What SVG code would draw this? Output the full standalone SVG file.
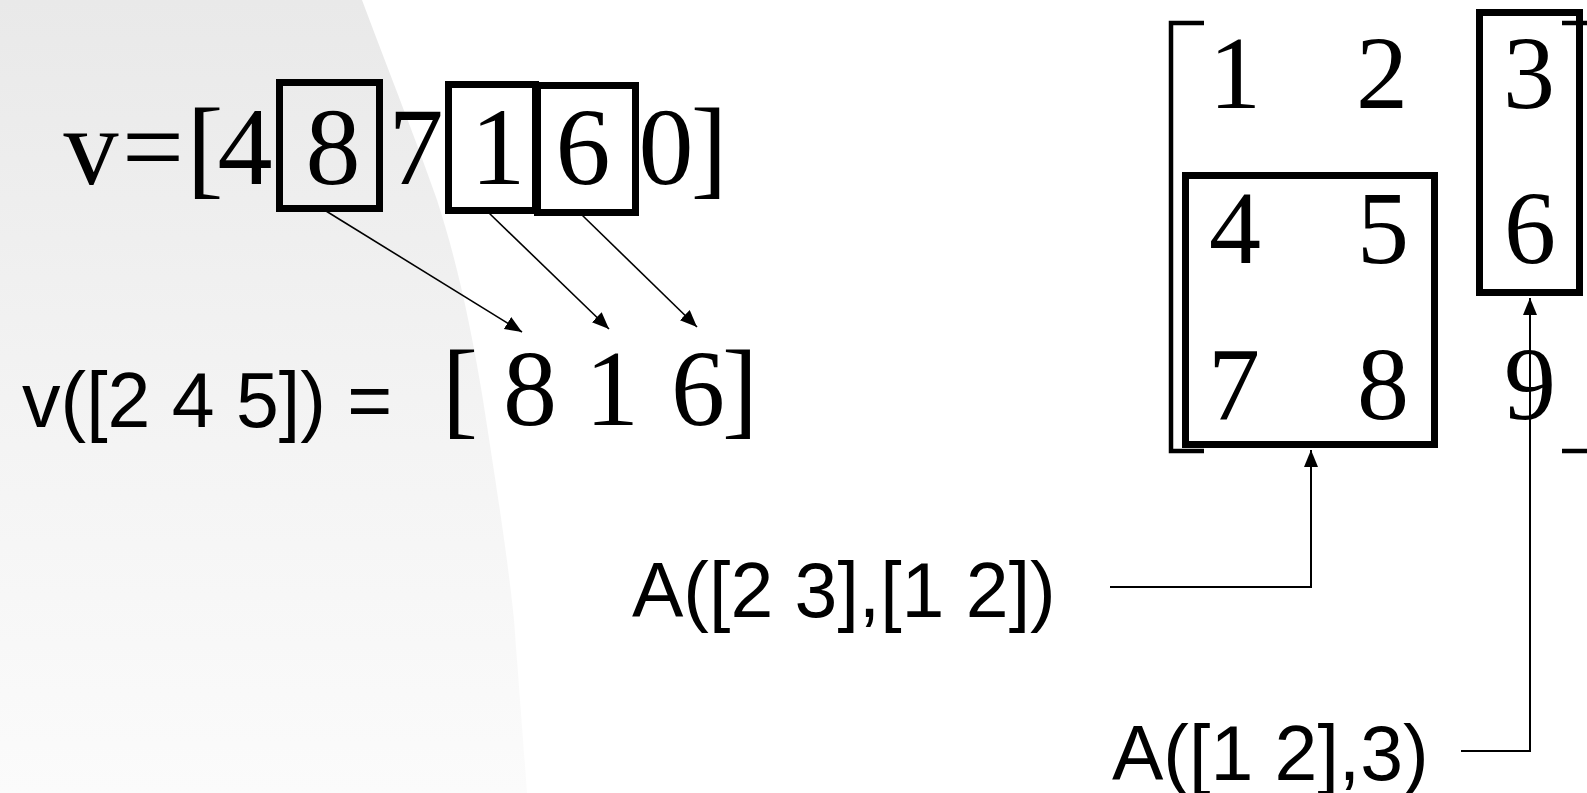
<svg xmlns="http://www.w3.org/2000/svg" width="1587" height="793" viewBox="0 0 1587 793">
  <style>
    .serif { font-family: "Liberation Serif", "Times New Roman", serif; fill: #000; text-anchor: middle; }
    .big { font-size: 110px; }
    .mid { font-size: 108px; }
    .mat { font-size: 104px; }
    .sans { font-family: "Liberation Sans", Arial, sans-serif; font-size: 77px; fill: #000; }
    .box { fill: none; stroke: #000; stroke-width: 7; }
    .bracket { fill: none; stroke: #000; stroke-width: 4.5; }
    .arrow { fill: none; stroke: #000; stroke-width: 1.6; marker-end: url(#head); }
    .lead { fill: none; stroke: #000; stroke-width: 2; marker-end: url(#head); }
  </style>
  <defs>
    <linearGradient id="shade" x1="0" y1="0" x2="0" y2="1">
      <stop offset="0" stop-color="#e9e9e9"/>
      <stop offset="0.5" stop-color="#f3f3f3"/>
      <stop offset="1" stop-color="#fbfbfb"/>
    </linearGradient>
    <marker id="head" markerUnits="userSpaceOnUse" markerWidth="18" markerHeight="16" refX="17" refY="7" orient="auto">
      <path d="M0,0 L17,7 L0,14 Z" fill="#000"/>
    </marker>
  </defs>

  <!-- page background with curved shaded panel -->
  <rect x="0" y="0" width="1587" height="793" fill="#ffffff"/>
  <path d="M0,0 L362,0 C390,75 420,150 437,200 C455,255 470,320 483,400 C497,490 508,560 514,620 C520,700 524,750 527,793 L0,793 Z" fill="url(#shade)"/>

  <!-- vector v -->
  <g id="vector-v">
    <text class="serif big" x="91" y="184">v</text>
    <text class="serif big" x="153" y="184">=</text>
    <text class="serif big" x="205" y="184">[</text>
    <text class="serif big" x="245" y="184">4</text>
    <text class="serif big" x="333" y="184">8</text>
    <text class="serif big" x="416" y="184">7</text>
    <text class="serif big" x="498" y="184">1</text>
    <text class="serif big" x="583" y="184">6</text>
    <text class="serif big" x="666" y="184">0</text>
    <text class="serif big" x="709" y="184">]</text>
    <rect class="box" x="279.5" y="82.5" width="100" height="126"/>
    <rect class="box" x="448.5" y="84.5" width="87" height="126"/>
    <rect class="box" x="537.5" y="85.5" width="98" height="127"/>
  </g>

  <!-- indexed result -->
  <g id="vector-result">
    <text class="sans" x="22" y="427">v([2 4 5]) =</text>
    <text class="serif mid" x="460" y="425">[</text>
    <text class="serif mid" x="530" y="425">8</text>
    <text class="serif mid" x="612" y="425">1</text>
    <text class="serif mid" x="698" y="425">6</text>
    <text class="serif mid" x="740" y="425">]</text>
  </g>

  <!-- matrix A -->
  <g id="matrix-a">
    <path class="bracket" d="M1204,23 H1171 V451 H1204"/>
    <path class="bracket" d="M1562,23 H1590 V451 H1562"/>
    <text class="serif mat" x="1235" y="108">1</text>
    <text class="serif mat" x="1382" y="108">2</text>
    <text class="serif mat" x="1529" y="108">3</text>
    <text class="serif mat" x="1235" y="263">4</text>
    <text class="serif mat" x="1383" y="263">5</text>
    <text class="serif mat" x="1530" y="263">6</text>
    <text class="serif mat" x="1234" y="419">7</text>
    <text class="serif mat" x="1383" y="419">8</text>
    <text class="serif mat" x="1530" y="419">9</text>
  </g>

  <g id="block-rows23-cols12">
    <rect class="box" x="1185.5" y="175.5" width="249" height="269"/>
  </g>
  <g id="block-rows12-col3">
    <rect class="box" x="1479.5" y="12.5" width="100" height="280"/>
  </g>

  <g id="label-a1">
    <text class="sans" x="632" y="617">A([2 3],[1 2])</text>
  </g>
  <g id="label-a2">
    <text class="sans" x="1112" y="780">A([1 2],3)</text>
  </g>

  <!-- connectors -->
  <g id="connectors">
    <line class="arrow" x1="326" y1="211" x2="522" y2="332"/>
    <line class="arrow" x1="489" y1="213" x2="609" y2="329"/>
    <line class="arrow" x1="582" y1="215" x2="697" y2="327"/>
    <path class="lead" d="M1110,587 H1311 V450"/>
    <path class="lead" d="M1461,751 H1530 V298"/>
  </g>
</svg>
